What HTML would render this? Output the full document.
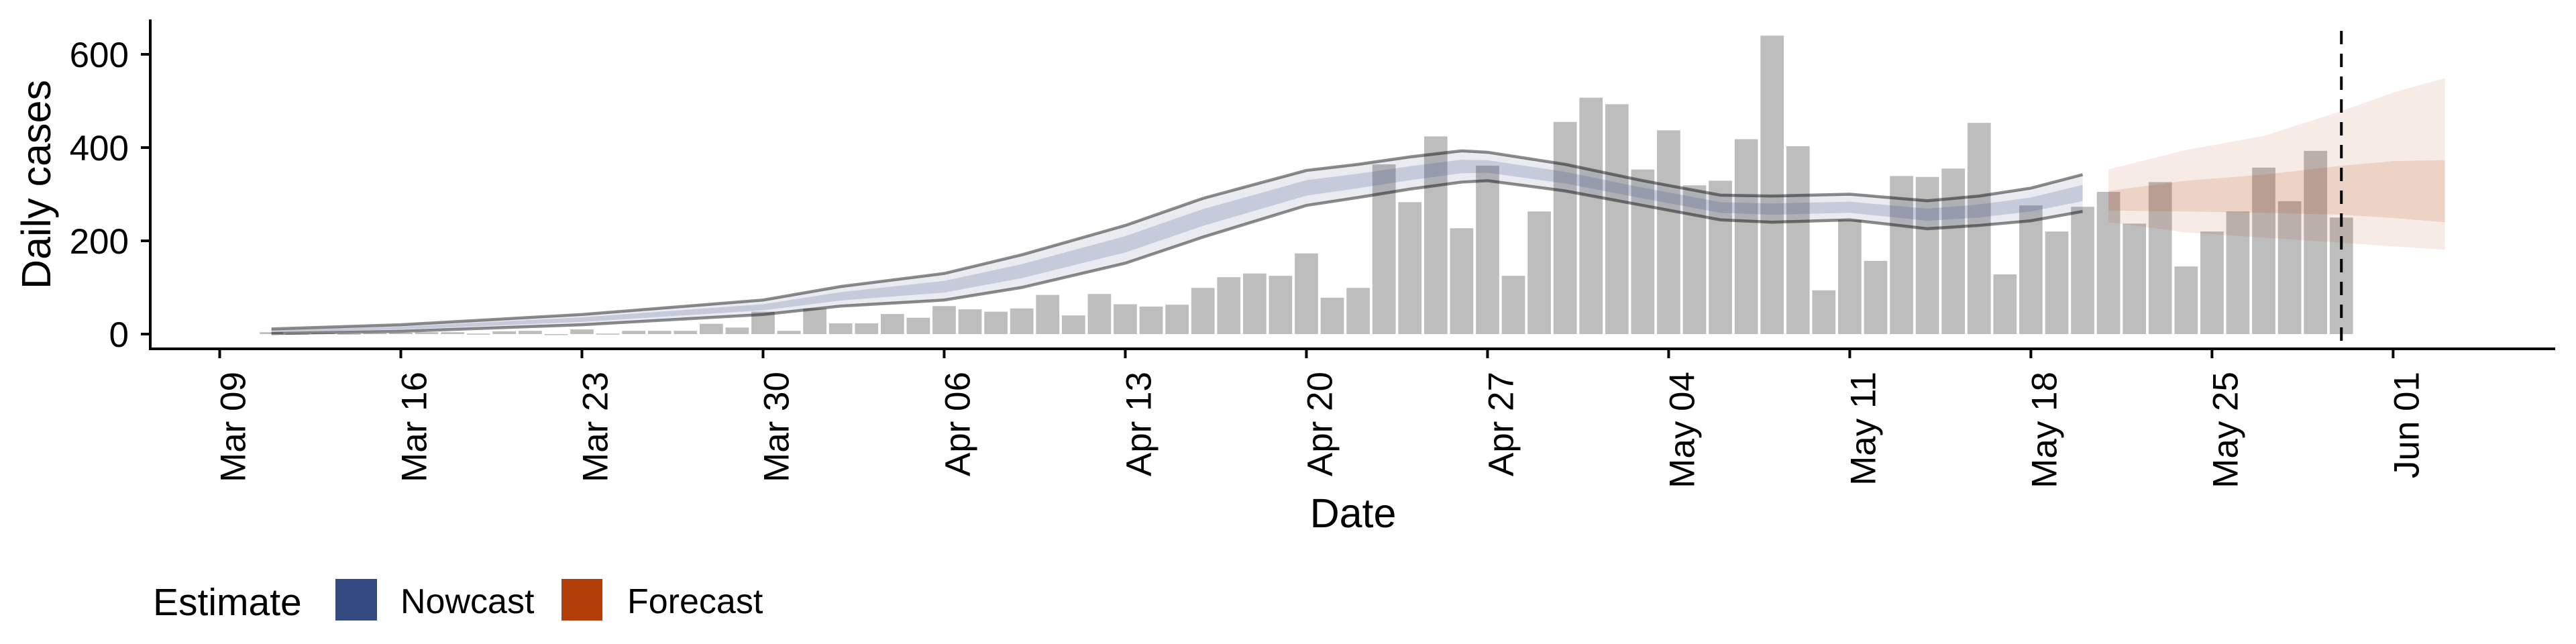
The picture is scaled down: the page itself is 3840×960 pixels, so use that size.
<!DOCTYPE html>
<html><head><meta charset="utf-8"><style>
html,body{margin:0;padding:0;background:#fff}
svg{display:block;font-family:"Liberation Sans",sans-serif}
</style></head><body>
<svg id="chart" width="3840" height="960" viewBox="0 0 3840 960">
<g id="plot"></g>
<g id="axes"></g>
<g id="legend">
 <text x="228" y="917" font-size="57">Estimate</text>
 <rect x="500" y="863" width="62" height="62" fill="#354a80"/>
 <text x="597" y="914" font-size="52">Nowcast</text>
 <rect x="837" y="863" width="61" height="62" fill="#b33e0a"/>
 <text x="935" y="914" font-size="52">Forecast</text>
</g>
</svg>
<script>
// days are offsets from Mar 09
const caseStartDay = 2;
const cases = [4,1,2,1,2,3,4,4,1,6,7,0,10,1,7,7,7,22,14,48,7,
55,23,23,43,35,60,53,48,55,84,40,86,64,59,63,99,122,130,125,173,78,99,364,283,424,227,361,125,263,455,
507,493,353,437,319,329,418,640,403,94,245,157,339,337,355,453,128,276,220,273,305,237,326,145,220,263,357,285,393,250];
const nowDays = [2,7,14,21,24,28,31,35,38,42,44,46,48,49,52,55,58,60,63,66,68,70,72];
const nowUpper = [11,20,42,73,102,130,170,233,291,351,364,380,393,390,364,329,298,296,300,286,296,313,342];
const nowLower = [1,6,20,42,60,73,100,152,208,276,293,311,326,329,307,276,245,240,245,226,233,243,263];
const nowInnerUp = [8,16,36,64,90,114,150,210,268,330,344,360,374,373,348,314,283,280,284,269,278,293,320];
const nowInnerLo = [4,10,26,51,72,89,120,175,232,297,313,330,345,346,323,291,260,256,260,243,250,263,285];
const fcDays = [73,76,79,82,84,86];
const fcUpper = [353,395,425,478,518,549];
const fcLower = [240,218,207,196,188,181];
const fcInnerUp = [307,329,342,361,371,373];
const fcInnerLo = [265,263,260,256,249,240];
const yTicks = [0,200,400,600];
const xTickDays = [0,7,14,21,28,35,42,49,56,63,70,77,84];
const xTickLabels = ["Mar 09","Mar 16","Mar 23","Mar 30","Apr 06","Apr 13","Apr 20","Apr 27","May 04","May 11","May 18","May 25","Jun 01"];
const dashDay = 82;

const NS="http://www.w3.org/2000/svg";
const X0=327.5, DX=38.57, Y0=498, YS=(498-81)/600;
const xs=d=>X0+d*DX, ys=v=>Y0-v*YS;
const plot=document.getElementById('plot'), axes=document.getElementById('axes');
function mk(tag,attrs,parent){const e=document.createElementNS(NS,tag);for(const k in attrs)e.setAttribute(k,attrs[k]);parent.appendChild(e);return e;}
function band(days,up,lo,fill,op){let p='M'+days.map((d,i)=>xs(d)+','+ys(up[i])).join('L');
 for(let i=days.length-1;i>=0;i--)p+='L'+xs(days[i])+','+ys(lo[i]);return mk('path',{d:p+'Z',fill:fill,'fill-opacity':op},plot);}
function line(days,v,name){const e=mk('path',{d:'M'+days.map((d,i)=>xs(d)+','+ys(v[i])).join('L'),fill:'none',stroke:'#000','stroke-opacity':0.45,'stroke-width':4.5},plot);
 
 }
cases.forEach((v,i)=>{const d=caseStartDay+i,w=DX*0.9;
 const r=mk('rect',{x:xs(d)-w/2,y:ys(v),width:w,height:Math.max(v*YS,1.5),fill:'#bdbdbd'},plot);
 
 });
let b;
b=band(nowDays,nowUpper,nowLower,'#354a80',0.11);


b=band(nowDays,nowInnerUp,nowInnerLo,'#354a80',0.2);


line(nowDays,nowUpper,'nowcast-upper-line');
line(nowDays,nowLower,'nowcast-lower-line');
b=band(fcDays,fcUpper,fcLower,'#b33e0a',0.1);


b=band(fcDays,fcInnerUp,fcInnerLo,'#b33e0a',0.14);


const dl=mk('line',{x1:xs(dashDay),x2:xs(dashDay),y1:46,y2:520,stroke:'#000','stroke-width':4,'stroke-dasharray':'20,14'},plot);


let a=mk('line',{x1:224,x2:224,y1:29,y2:522,stroke:'#000','stroke-width':4},axes);


a=mk('line',{x1:222,x2:3809,y1:520,y2:520,stroke:'#000','stroke-width':4},axes);


yTicks.forEach(v=>{mk('line',{x1:210,x2:224,y1:ys(v),y2:ys(v),stroke:'#000','stroke-width':4},axes);
 const t=mk('text',{x:192,y:ys(v)+19,'font-size':53,'text-anchor':'end'},axes);t.textContent=v;
 
 });
xTickDays.forEach((d,i)=>{mk('line',{x1:xs(d),x2:xs(d),y1:520,y2:534,stroke:'#000','stroke-width':4},axes);
 const t=mk('text',{transform:`translate(${xs(d)+38},554) rotate(-90)`,'font-size':53,'text-anchor':'end'},axes);t.textContent=xTickLabels[i];
 
 });
let t=mk('text',{transform:'translate(75,275) rotate(-90)','font-size':61,'text-anchor':'middle'},axes);t.textContent='Daily cases';


t=mk('text',{x:2017,y:786,'font-size':61,'text-anchor':'middle'},axes);t.textContent='Date';


</script>
</body></html>
